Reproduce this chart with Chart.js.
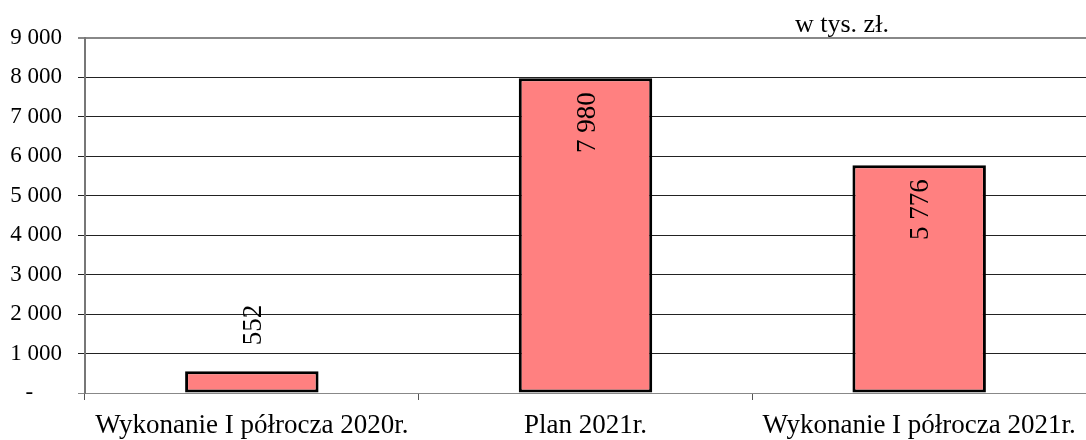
<!DOCTYPE html>
<html>
<head>
<meta charset="utf-8">
<script src="https://cdn.jsdelivr.net/npm/chart.js@4"></script>
<style>
  html, body { margin:0; padding:0; background:#fff; }
  #wrap { width:1086px; height:440px; position:relative; }
</style>
</head>
<body>
<div id="wrap"><canvas id="chart"></canvas></div>
<script>
// ---------- Data ----------
const categories = ['Wykonanie I półrocza 2020r.', 'Plan 2021r.', 'Wykonanie I półrocza 2021r.'];
const values = [552, 7980, 5776];
const unitLabel = 'w tys. zł.';

const FONT = "'Liberation Serif', 'Times New Roman', serif";

function fmtNum(v){
  if (v === 0) return '-';
  return String(Math.round(v)).replace(/\B(?=(\d{3})+(?!\d))/g, ' ');
}

// rotated value labels + unit text
const labelPlugin = {
  id: 'labels',
  afterDatasetsDraw(chart){
    const ctx = chart.ctx;
    const meta = chart.getDatasetMeta(0);
    ctx.save();
    ctx.font = '27px ' + FONT;
    ctx.fillStyle = '#000';
    ctx.textBaseline = 'middle';
    meta.data.forEach((bar, i) => {
      const txt = fmtNum(values[i]);
      const w = ctx.measureText(txt).width;
      const h = bar.base - bar.y;
      ctx.save();
      ctx.translate(bar.x + 2, bar.y);
      ctx.rotate(-Math.PI / 2);
      if (h > w + 30) {
        ctx.textAlign = 'right';
        ctx.fillText(txt, -14, 0);
      } else {
        ctx.textAlign = 'left';
        ctx.fillText(txt, 26, 0);
      }
      ctx.restore();
    });
    ctx.font = '26px ' + FONT;
    ctx.textAlign = 'left';
    ctx.textBaseline = 'alphabetic';
    ctx.fillText(unitLabel, 795, 32);
    ctx.restore();
  }
};

// y tick: the zero dash sits left of the right edge
function yTick(v){
  return v === 0 ? '-\u2007\u2007 ' : fmtNum(v);
}

new Chart(document.getElementById('chart'), {
  type: 'bar',
  data: {
    labels: categories,
    datasets: [{
      data: values,
      backgroundColor: '#FF8080',
      borderColor: '#000',
      borderWidth: 3,
      borderSkipped: false,
      categoryPercentage: 0.4,
      barPercentage: 1
    }]
  },
  options: {
    responsive: true,
    maintainAspectRatio: false,
    animation: false,
    layout: { padding: { top: 38, right: 0, left: 0, bottom: 0 } },
    plugins: { legend: { display: false }, tooltip: { enabled: false } },
    scales: {
      x: {
        grid: { offset: true, drawOnChartArea: false, drawTicks: true, tickLength: 7, color: '#555' },
        border: { display: false },
        ticks: { color: '#000', font: { family: FONT, size: 27 }, padding: 10, maxRotation: 0, autoSkip: false },
        afterFit: s => { s.height = 47; }
      },
      y: {
        min: 0, max: 9000,
        grid: {
          color: c => (c.tick && (c.tick.value === 9000 || c.tick.value === 0)) ? '#888' : '#222',
          lineWidth: c => (c.tick && c.tick.value === 9000) ? 2 : 1,
          tickLength: 7
        },
        border: { color: '#777', width: 2 },
        ticks: {
          stepSize: 1000,
          color: '#000',
          font: { family: FONT, size: 23 },
          padding: 16,
          callback: v => yTick(v)
        },
        afterFit: s => { s.width = 85; }
      }
    }
  },
  plugins: [labelPlugin]
});
</script>
</body>
</html>
